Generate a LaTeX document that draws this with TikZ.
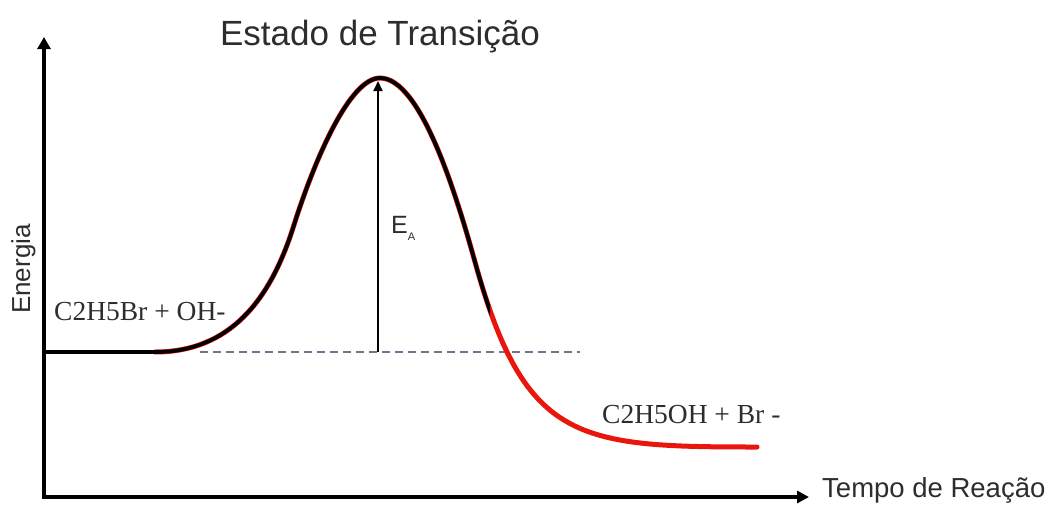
\documentclass[tikz,border=0pt]{standalone}
\usepackage{fontspec}
\setmainfont{Liberation Serif}
\setsansfont{Liberation Sans}
\usetikzlibrary{arrows.meta}
\definecolor{vermelho}{RGB}{232,22,12}
\definecolor{tracejado}{RGB}{112,116,140}
\definecolor{texto}{RGB}{45,45,45}

\begin{document}
\begin{tikzpicture}[x=1pt,y=-1pt,line cap=round,
  rotulo/.style={text=texto,inner sep=0pt,anchor=base west,font=\fontsize{27.5}{30}\selectfont},
  titulo/.style={text=texto,inner sep=0pt,font=\sffamily\fontsize{26}{30}\selectfont}]
  \useasboundingbox (0,0) rectangle (1049,504);
  \coordinate (O) at (44,497);
  \coordinate (ytip) at (44,37);
  \coordinate (xtip) at (809,497);
  \coordinate (reag) at (378,352);
  \coordinate (topo) at (378,81);
  \coordinate (nivel) at (200,352);
  \coordinate (nivelfim) at (580,352);
  \draw[line width=3.5pt,line cap=butt,
    {Triangle[width=13pt,length=12pt]}-{Triangle[width=12pt,length=12pt]}] (ytip) -- (O) -- (xtip);
  \draw[tracejado,line width=1.5pt,line cap=butt,dash pattern=on 8pt off 5pt] (nivel) -- (nivelfim);
  \draw[line width=2.2pt,line cap=butt,-{Triangle[width=9pt,length=10pt]}] (reag) -- (topo);
  % Curva de energia: vermelha por baixo, preta por cima ate x = 490.
  \draw[vermelho,line width=5pt] (155,352)
    .. controls (230,352) and (270,300) .. (293,228)
    .. controls (315,158) and (350,78) .. (380,78)
    .. controls (420,78) and (455,190) .. (475,262)
    .. controls (525,442) and (577,447) .. (757,447);
  \begin{scope}
    \clip (0,0) rectangle (490,504);
    \draw[line width=3.8pt] (44,352) -- (155,352)
      .. controls (230,352) and (270,300) .. (293,228)
      .. controls (315,158) and (350,78) .. (380,78)
      .. controls (420,78) and (455,190) .. (475,262)
      .. controls (525,442) and (577,447) .. (757,447);
  \end{scope}
  \node[titulo,font=\sffamily\fontsize{35}{40}\selectfont,anchor=base] (estado) at (380,45) {Estado de Transição};
  \node[titulo,rotate=90,anchor=base] (energia) at (30,269) {Energia};
  \node[titulo,font=\sffamily\fontsize{27.5}{30}\selectfont,anchor=base west] (tempo) at (822,497) {Tempo de Reação};
  \node[titulo,font=\sffamily\fontsize{25}{30}\selectfont,anchor=base west] (ea) at (391,233)
    {E\raisebox{-7pt}{\fontsize{11}{11}\selectfont A}};
  \node[rotulo] (reagentes) at (54,320) {C2H5Br + OH-};
  \node[rotulo] (produtos) at (602,423) {C2H5OH + Br -};
\end{tikzpicture}
\end{document}
